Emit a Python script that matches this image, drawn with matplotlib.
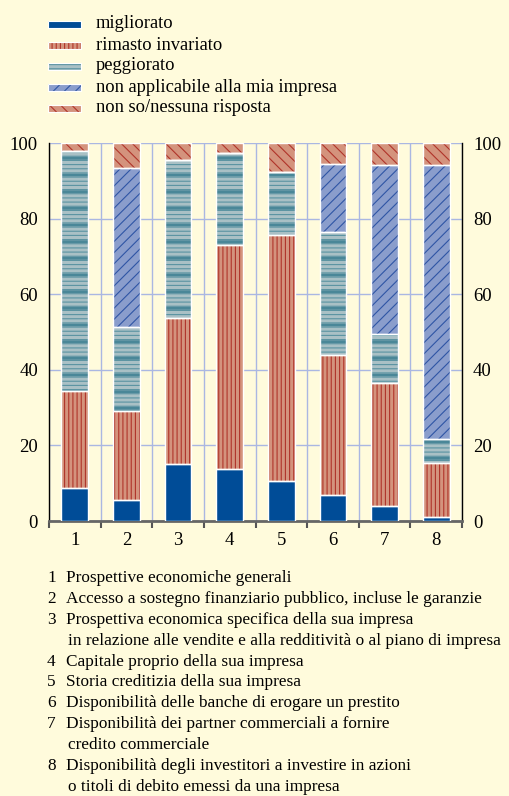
import numpy as np
import matplotlib.pyplot as plt
from matplotlib.patches import Rectangle

plt.rcParams['font.family'] = ['Liberation Serif', 'DejaVu Serif']
plt.rcParams['hatch.linewidth'] = 0.8

categorie = ['1', '2', '3', '4', '5', '6', '7', '8']
serie = ['migliorato', 'rimasto invariato', 'peggiorato',
         'non applicabile alla mia impresa', 'non so/nessuna risposta']
migliorato = [8.8, 5.5, 15.0, 13.7, 10.6, 6.8, 3.9, 1.1]
invariato = [25.6, 23.5, 38.6, 59.4, 65.1, 37.2, 32.7, 14.3]
peggiorato = [63.5, 22.3, 42.0, 24.3, 16.5, 32.5, 12.8, 6.4]
non_applicabile = [0.0, 42.2, 0.0, 0.0, 0.0, 18.0, 44.8, 72.5]
non_so = [2.1, 6.5, 4.4, 2.6, 7.8, 5.5, 5.8, 5.7]
valori = [migliorato, invariato, peggiorato, non_applicabile, non_so]

note = [
    ('1', 'Prospettive economiche generali'),
    ('2', 'Accesso a sostegno finanziario pubblico, incluse le garanzie'),
    ('3', 'Prospettiva economica specifica della sua impresa'),
    ('', 'in relazione alle vendite e alla redditività o al piano di impresa'),
    ('4', 'Capitale proprio della sua impresa'),
    ('5', 'Storia creditizia della sua impresa'),
    ('6', 'Disponibilità delle banche di erogare un prestito'),
    ('7', 'Disponibilità dei partner commerciali a fornire'),
    ('', 'credito commerciale'),
    ('8', 'Disponibilità degli investitori a investire in azioni'),
    ('', 'o titoli di debito emessi da una impresa'),
]

sfondo = '#fffbdc'
# fill, hatch colour, hatch
stili = [
    ('#004c97', '#004c97', None),
    ('#d4937d', '#b0342a', '||||'),
    ('#a9c0c5', '#5a93a2', '----'),
    ('#8a9dcc', '#2f55a5', '///'),
    ('#d4937d', '#b0342a', '\\\\\\'),
]

W, H = 509, 796
fig = plt.figure(figsize=(W / 100, H / 100), dpi=100, facecolor=sfondo)
ax = fig.add_axes([49 / W, 1 - 521 / H, 413 / W, 378 / H])
ax.set_facecolor(sfondo)

x = np.arange(len(categorie))
base = np.zeros(len(categorie))
for vals, (fc, hc, hatch) in zip(valori, stili):
    vals = np.array(vals)
    ax.bar(x, vals, 0.52, bottom=base, color=fc, edgecolor=hc, hatch=hatch,
           linewidth=0, zorder=3)
    if hatch == '----':
        with plt.rc_context({'hatch.linewidth': 2.0}):
            ax.bar(x, vals, 0.52, bottom=base, fill=False, edgecolor='#4a8798',
                   hatch='-', linewidth=0, zorder=3)
    ax.bar(x, vals, 0.52, bottom=base, fill=False, edgecolor='white',
           linewidth=1.0, zorder=4)
    base += vals

ax.set_xlim(-0.5, len(categorie) - 0.5)
ax.set_ylim(0, 100)
ax.set_yticks(range(0, 101, 20))
ax.set_xticks(x)
ax.set_xticklabels(categorie)
ax.set_xticks(np.arange(-0.5, len(categorie)), minor=True)
ax.grid(axis='y', color='#aab7e2', linewidth=1, zorder=1)
ax.grid(axis='x', which='minor', color='#aab7e2', linewidth=1, zorder=1)
ax.tick_params(axis='y', length=0, labelsize=13.5, pad=8,
               left=True, right=True, labelleft=True, labelright=True)
ax.tick_params(axis='x', which='major', length=0, labelsize=13.5, pad=8)
ax.tick_params(axis='x', which='minor', length=5, width=1.5, color='#555555',
               direction='out')
for s in ['left', 'right']:
    ax.spines[s].set_color('black')
    ax.spines[s].set_linewidth(1)
ax.spines['top'].set_visible(False)
ax.spines['bottom'].set_color('#666666')
ax.spines['bottom'].set_linewidth(2)

# legenda
y0 = 24
for i, (nome, (fc, hc, hatch)) in enumerate(zip(serie, stili)):
    yc = y0 + i * 21
    r = Rectangle((48 / W, 1 - (yc + 3.5) / H), 33 / W, 7 / H,
                  transform=fig.transFigure, facecolor=fc, edgecolor=hc,
                  hatch=hatch, linewidth=0)
    fig.patches.append(r)
    fig.patches.append(Rectangle((48 / W, 1 - (yc + 3.5) / H), 33 / W, 7 / H,
                                 transform=fig.transFigure, fill=False,
                                 edgecolor='white', linewidth=0.8))
    fig.text(96 / W, 1 - yc / H, nome, fontsize=13.3, va='center', ha='left')

# note
for i, (num, testo) in enumerate(note):
    yc = 578 + i * 20.9
    if num:
        fig.text(47 / W, 1 - yc / H, num, fontsize=12.4, va='center', ha='left')
        fig.text(66 / W, 1 - yc / H, testo, fontsize=12.4, va='center', ha='left')
    else:
        fig.text(68 / W, 1 - yc / H, testo, fontsize=12.4, va='center', ha='left')

fig.savefig('out.png', dpi=100, facecolor=sfondo)
